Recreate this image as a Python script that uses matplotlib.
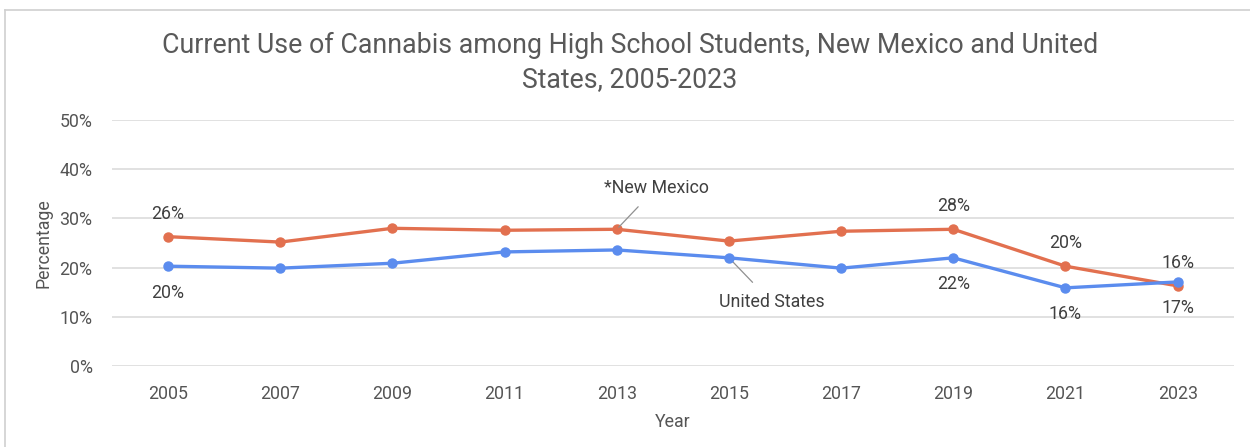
import matplotlib.pyplot as plt
from matplotlib.lines import Line2D

plt.rcParams['font.family'] = ['Roboto', 'DejaVu Sans']

years = ['2005', '2007', '2009', '2011', '2013', '2015', '2017', '2019', '2021', '2023']
new_mexico = [26.3, 25.2, 28.0, 27.6, 27.8, 25.4, 27.4, 27.8, 20.3, 16.3]
united_states = [20.3, 19.9, 20.9, 23.2, 23.6, 22.0, 19.9, 22.0, 15.9, 17.1]
yticks = [0, 10, 20, 30, 40, 50]

# points that carry a value label (NM above the line, US below)
nm_labelled = [0, 7, 8, 9]
us_labelled = [0, 7, 8, 9]

nm_color = '#E2704F'
us_color = '#5B8CEE'
text_color = '#555555'

fig = plt.figure(figsize=(12.5, 4.47), dpi=100)
ax = fig.add_axes([0.0896, 0.181, 0.8974, 0.5505])

x = range(len(years))
ax.plot(x, new_mexico, color=nm_color, lw=2.4, marker='o', ms=6.5, zorder=3)
ax.plot(x, united_states, color=us_color, lw=2.4, marker='o', ms=6.5, zorder=4)

for i in nm_labelled:
    ax.annotate(f'{new_mexico[i]:.0f}%', (i, new_mexico[i]), xytext=(0, 10),
                textcoords='offset points', ha='center', va='bottom',
                fontsize=12.8, color='#404040')
for i in us_labelled:
    ax.annotate(f'{united_states[i]:.0f}%', (i, united_states[i]), xytext=(0, -12.5),
                textcoords='offset points', ha='center', va='top',
                fontsize=12.8, color='#404040')

# series name callouts with leader lines
ax.annotate('*New Mexico', xy=(4, new_mexico[4]), xytext=(4.35, 36.2),
            ha='center', va='center', fontsize=12.8, color='#404040',
            arrowprops=dict(arrowstyle='-', color='#909090', lw=0.9,
                            shrinkA=7, shrinkB=2))
ax.annotate('United States', xy=(5, united_states[5]), xytext=(5.38, 13.0),
            ha='center', va='center', fontsize=12.8, color='#404040',
            arrowprops=dict(arrowstyle='-', color='#909090', lw=0.9,
                            shrinkA=8, shrinkB=2))

ax.set_xlim(-0.5, len(years) - 0.5)
ax.set_ylim(0, 50)
ax.set_xticks(list(x))
ax.set_xticklabels(years)
ax.set_yticks(yticks)
ax.set_yticklabels([f'{t}%' for t in yticks])
ax.tick_params(length=0, labelsize=12.8, colors=text_color)
ax.tick_params(axis='x', pad=13.5)
ax.tick_params(axis='y', pad=14)
ax.grid(axis='y', color='#d9d9d9', lw=1.1)
ax.set_axisbelow(True)
for s in ax.spines.values():
    s.set_visible(False)

ax.set_ylabel('Percentage', fontsize=12.8, color=text_color, labelpad=5)
ax.set_xlabel('Year', fontsize=12.8, color=text_color, labelpad=7)

fig.text(0.504, 0.86, 'Current Use of Cannabis among High School Students, New Mexico and United\nStates, 2005-2023',
         ha='center', va='center', fontsize=19.3, color='#595959', linespacing=1.35)

# chart frame edges
fig.add_artist(Line2D([0.004, 1.0], [0.977, 0.977], color='#d0d0d0', lw=1.2))
fig.add_artist(Line2D([0.004, 0.004], [0.0, 0.977], color='#d0d0d0', lw=1.2))

fig.savefig('out.png', dpi=100)
